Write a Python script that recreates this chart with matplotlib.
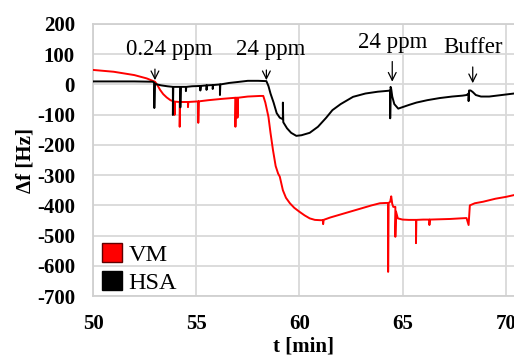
import matplotlib
matplotlib.use('Agg')
import matplotlib.pyplot as plt
from matplotlib.patches import Patch

plt.rcParams['font.family'] = ['Liberation Serif', 'DejaVu Serif']
plt.rcParams['axes.unicode_minus'] = False

# HSA trace (black)
hsa_t = [50, 51, 52, 52.9, 52.97, 52.97, 52.99, 53.1, 53.3, 53.6, 53.87, 53.87, 53.89,
         54.0, 54.23, 54.23, 54.25, 54.5, 54.5, 54.52, 54.8, 55.2, 55.2, 55.22, 55.5, 55.5,
         55.52, 55.8, 55.8, 55.82, 56.15, 56.15, 56.17, 56.6, 57.0, 57.5, 58.0, 58.4,
         58.5, 58.6, 58.75, 58.9, 59.05, 59.2, 59.2, 59.22, 59.4, 59.6, 59.85, 60.1, 60.5,
         60.9, 61.3, 61.6, 62.0, 62.6, 63.2, 63.8, 64.3, 64.4, 64.4, 64.42, 64.45, 64.5,
         64.6, 64.79, 65.0, 65.3, 65.67, 66.2, 66.8, 67.4, 67.9, 68.1, 68.2, 68.2, 68.22,
         68.3, 68.4, 68.55, 68.8, 69.2, 69.8, 70.4]
hsa_f = [10, 10, 10, 9, 5, -78, 3, 0, -3, -6, -8, -101, -8,
         -8, -8, -76, -8, -8, -22, -8, -6, -5, -20, -5, -3, -18,
         -3, -2, -15, -2, 0, -35, 0, 5, 8, 12, 12, 11,
         -5, -30, -60, -95, -110, -115, -60, -125, -145, -160, -170, -168, -160,
         -140, -110, -85, -65, -41, -30, -24, -21, -20, -112, -8, -15, -40,
         -65, -80, -75, -68, -60, -52, -45, -40, -37, -35, -30, -55, -20,
         -20, -25, -35, -40, -40, -35, -30]

# VM trace (red)
vm_t = [50, 51, 52, 52.6, 53.0, 53.1, 53.25, 53.4, 53.57, 53.75, 53.95, 53.95, 53.97,
        54.2, 54.2, 54.22, 54.6, 54.6, 54.62, 55.1, 55.1, 55.12, 55.6, 56.2, 56.9, 56.9,
        56.92, 57.0, 57.0, 57.02, 57.5, 58.1, 58.25, 58.35, 58.5, 58.6, 58.72, 58.85, 58.97,
        59.05, 59.2, 59.35, 59.54, 59.75, 60.0, 60.25, 60.5, 60.75, 61.0, 61.15, 61.15,
        61.17, 61.5, 62.0, 62.45, 63.0, 63.5, 63.9, 64.2, 64.3, 64.3, 64.32, 64.4, 64.45,
        64.5, 64.55, 64.65, 64.65, 64.68, 64.77, 65.0, 65.3, 65.65, 65.65, 65.67, 66.0,
        66.3, 66.3, 66.32, 66.8, 67.3, 67.8, 68.1, 68.2, 68.26, 68.5, 68.9, 69.5, 70.0, 70.4]
vm_f = [48, 42, 31, 20, 9, 0, -18, -32, -43, -52, -57, -101, -57,
        -58, -140, -58, -58, -75, -58, -56, -127, -56, -52, -48, -44, -140,
        -44, -44, -110, -44, -40, -38, -38, -60, -107, -160, -217, -270, -295,
        -305, -350, -375, -393, -408, -421, -433, -443, -448, -449, -449, -462,
        -448, -440, -430, -421, -410, -400, -393, -392, -392, -620, -392, -388, -370,
        -395, -405, -405, -504, -420, -443, -447, -448, -448, -525, -448, -447,
        -447, -465, -447, -446, -445, -443, -442, -465, -400, -393, -388, -378, -372, -366]

# injection marks
note_labels = ['0.24 ppm', '24 ppm', '24 ppm', 'Buffer']
note_t = [53.0, 58.4, 64.5, 68.4]
note_x = [53.7, 58.6, 64.5, 68.4]
note_y = [82, 80, 104, 88]
arrow_top = [60, 57, 85, 67]
arrow_tip = [5, 5, 0, -5]

fig = plt.figure(figsize=(5.14, 3.58), dpi=100)
ax = fig.add_axes([0.181, 0.173, 0.819, 0.760])

ax.plot(vm_t, vm_f, color='#ff0000', lw=1.4, zorder=3)
ax.plot(hsa_t, hsa_f, color='black', lw=1.4, zorder=4)

for label, t, tx, ty, top, tip in zip(note_labels, note_t, note_x, note_y, arrow_top, arrow_tip):
    ax.text(tx, ty, label, ha='center', va='bottom', fontsize=16.5)
    ax.annotate('', xy=(t, tip), xytext=(t, top),
                arrowprops=dict(arrowstyle='->', color='black', lw=0.9,
                                mutation_scale=14), zorder=5)

ax.set_xlim(50, 70.4)
ax.set_ylim(-700, 200)
ax.set_xticks([50, 55, 60, 65, 70])
ax.set_yticks(range(-700, 201, 100))
ax.grid(True, color='#d9d9d9', lw=1.3)
ax.set_axisbelow(True)
for side in ['top', 'left', 'bottom']:
    ax.spines[side].set_color('#d0d0d0')
    ax.spines[side].set_linewidth(1.3)
ax.spines['right'].set_visible(False)
ax.tick_params(length=0, labelsize=15, pad=13)
for lab in ax.get_xticklabels() + ax.get_yticklabels():
    lab.set_fontweight('bold')

ax.set_xlabel('t [min]', fontsize=15, fontweight='bold', labelpad=2)
ax.set_ylabel('Δf [Hz]', fontsize=15, fontweight='bold', labelpad=1)

handles = [Patch(facecolor='#ff0000', edgecolor='#600000', label='VM'),
           Patch(facecolor='black', edgecolor='black', label='HSA')]
ax.legend(handles=handles, loc='lower left', frameon=False, fontsize=17.5,
          handlelength=0.85, handleheight=0.85, handletextpad=0.25,
          labelspacing=0.2, borderaxespad=0.0, borderpad=0.1,
          bbox_to_anchor=(0.015, 0.0))

fig.savefig('out.png', dpi=100)
